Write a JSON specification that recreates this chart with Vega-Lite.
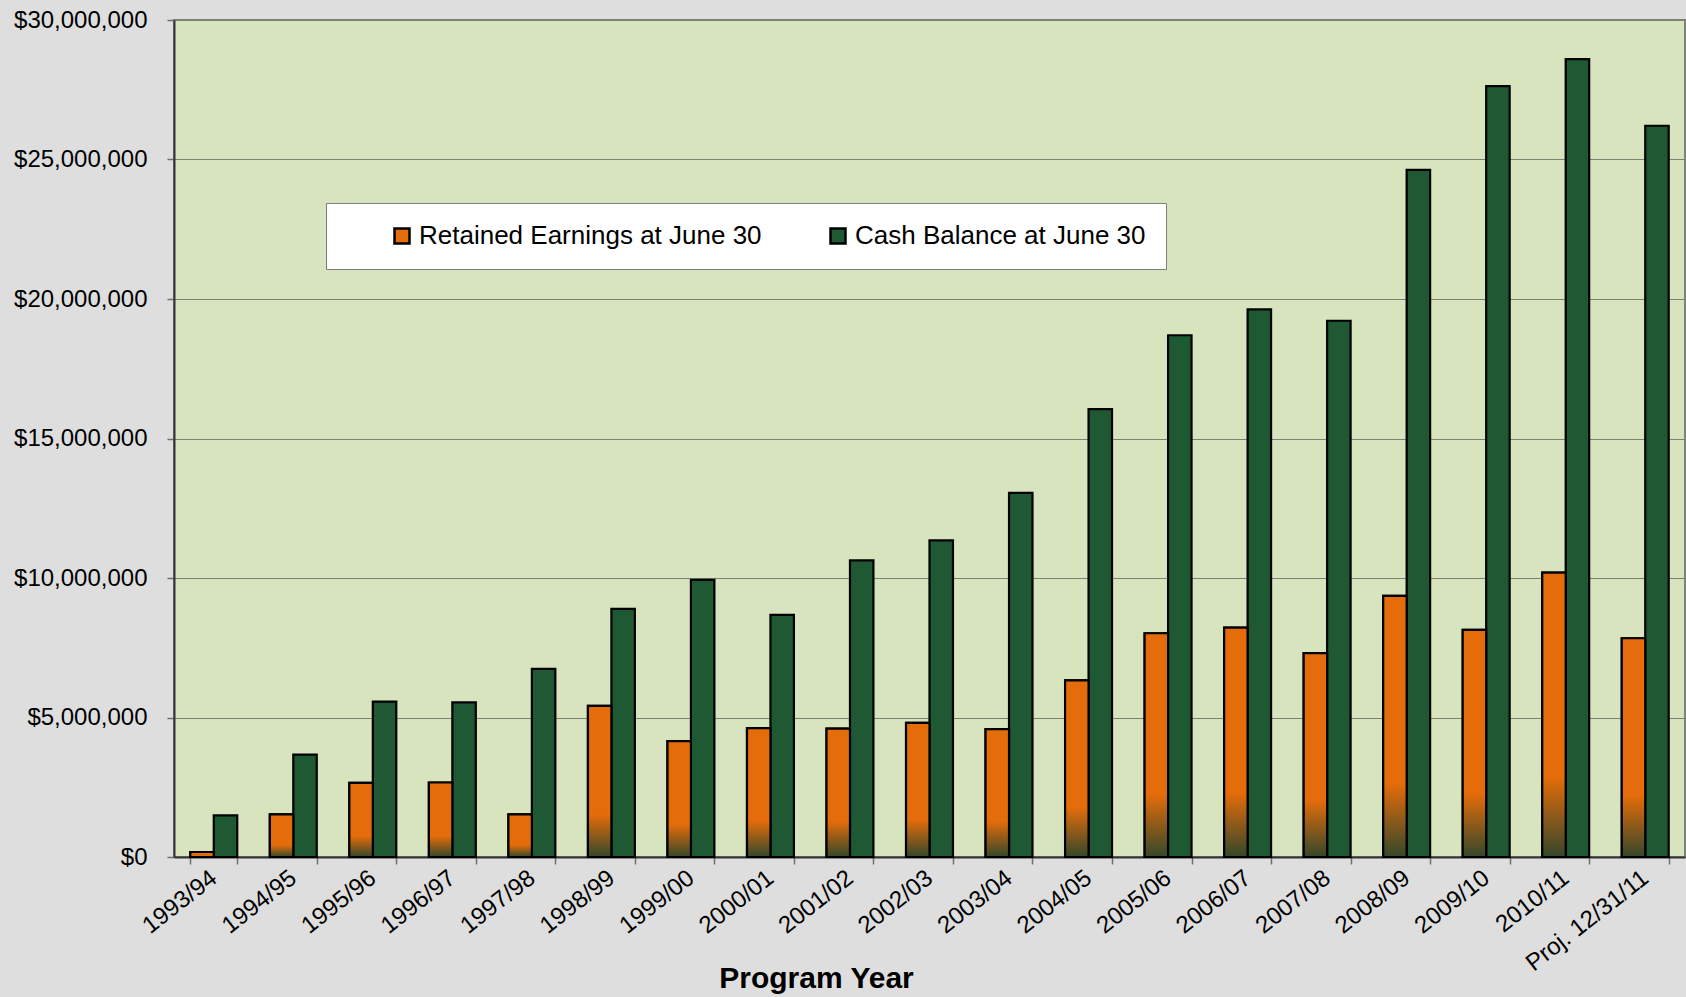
{
  "$schema": "https://vega.github.io/schema/vega-lite/v6.json",
  "width": 1511,
  "height": 837,
  "autosize": {"type": "none"},
  "padding": {"left": 174, "top": 20, "right": 1, "bottom": 140},
  "background": "#DEDEDE",
  "config": {
    "font": "Liberation Sans",
    "view": {"fill": "#D8E4BE", "stroke": "#808080", "strokeWidth": 2}
  },
  "data": {
    "values": [
      {"year": "1993/94", "series": "Retained Earnings at June 30", "value": 180000},
      {"year": "1994/95", "series": "Retained Earnings at June 30", "value": 1530000},
      {"year": "1995/96", "series": "Retained Earnings at June 30", "value": 2660000},
      {"year": "1996/97", "series": "Retained Earnings at June 30", "value": 2670000},
      {"year": "1997/98", "series": "Retained Earnings at June 30", "value": 1530000},
      {"year": "1998/99", "series": "Retained Earnings at June 30", "value": 5420000},
      {"year": "1999/00", "series": "Retained Earnings at June 30", "value": 4150000},
      {"year": "2000/01", "series": "Retained Earnings at June 30", "value": 4620000},
      {"year": "2001/02", "series": "Retained Earnings at June 30", "value": 4600000},
      {"year": "2002/03", "series": "Retained Earnings at June 30", "value": 4810000},
      {"year": "2003/04", "series": "Retained Earnings at June 30", "value": 4580000},
      {"year": "2004/05", "series": "Retained Earnings at June 30", "value": 6330000},
      {"year": "2005/06", "series": "Retained Earnings at June 30", "value": 8020000},
      {"year": "2006/07", "series": "Retained Earnings at June 30", "value": 8220000},
      {"year": "2007/08", "series": "Retained Earnings at June 30", "value": 7310000},
      {"year": "2008/09", "series": "Retained Earnings at June 30", "value": 9360000},
      {"year": "2009/10", "series": "Retained Earnings at June 30", "value": 8140000},
      {"year": "2010/11", "series": "Retained Earnings at June 30", "value": 10190000},
      {"year": "Proj. 12/31/11", "series": "Retained Earnings at June 30", "value": 7840000},
      {"year": "1993/94", "series": "Cash Balance at June 30", "value": 1490000},
      {"year": "1994/95", "series": "Cash Balance at June 30", "value": 3670000},
      {"year": "1995/96", "series": "Cash Balance at June 30", "value": 5570000},
      {"year": "1996/97", "series": "Cash Balance at June 30", "value": 5540000},
      {"year": "1997/98", "series": "Cash Balance at June 30", "value": 6740000},
      {"year": "1998/99", "series": "Cash Balance at June 30", "value": 8890000},
      {"year": "1999/00", "series": "Cash Balance at June 30", "value": 9930000},
      {"year": "2000/01", "series": "Cash Balance at June 30", "value": 8680000},
      {"year": "2001/02", "series": "Cash Balance at June 30", "value": 10630000},
      {"year": "2002/03", "series": "Cash Balance at June 30", "value": 11350000},
      {"year": "2003/04", "series": "Cash Balance at June 30", "value": 13050000},
      {"year": "2004/05", "series": "Cash Balance at June 30", "value": 16050000},
      {"year": "2005/06", "series": "Cash Balance at June 30", "value": 18700000},
      {"year": "2006/07", "series": "Cash Balance at June 30", "value": 19630000},
      {"year": "2007/08", "series": "Cash Balance at June 30", "value": 19220000},
      {"year": "2008/09", "series": "Cash Balance at June 30", "value": 24630000},
      {"year": "2009/10", "series": "Cash Balance at June 30", "value": 27630000},
      {"year": "2010/11", "series": "Cash Balance at June 30", "value": 28600000},
      {"year": "Proj. 12/31/11", "series": "Cash Balance at June 30", "value": 26210000}
    ]
  },
  "encoding": {
    "x": {
      "field": "year",
      "type": "nominal",
      "sort": null,
      "scale": {"paddingInner": 0.41, "paddingOuter": 0.205},
      "axis": {
        "title": "Program Year",
        "titleFontSize": 30,
        "titleFontWeight": "bold",
        "titleColor": "#000000",
        "titleX": 642,
        "titleY": 130,
        "titleAlign": "center",
        "titleBaseline": "alphabetic",
        "labelAngle": -38,
        "labelAlign": "right",
        "labelBaseline": "middle",
        "labelFontSize": 24,
        "labelColor": "#000000",
        "labelPadding": 11,
        "labelOverlap": false,
        "tickBand": "extent",
        "tickSize": 7,
        "tickColor": "#6f6f6f",
        "tickWidth": 1.5,
        "domainColor": "#333333",
        "domainWidth": 2
      }
    },
    "xOffset": {
      "field": "series",
      "type": "nominal",
      "scale": {"domain": ["Retained Earnings at June 30", "Cash Balance at June 30"]}
    },
    "y": {
      "field": "value",
      "type": "quantitative",
      "scale": {"domain": [0, 30000000], "nice": false, "zero": true},
      "axis": {
        "title": null,
        "values": [0, 5000000, 10000000, 15000000, 20000000, 25000000, 30000000],
        "format": "$,.0f",
        "labelFontSize": 24,
        "labelColor": "#000000",
        "labelPadding": 20,
        "tickSize": 7,
        "tickColor": "#6f6f6f",
        "tickWidth": 1.5,
        "domainColor": "#333333",
        "domainWidth": 2,
        "grid": true,
        "gridColor": "#7c8272",
        "gridWidth": 1.2
      }
    }
  },
  "layer": [
    {
      "mark": {"type": "bar", "stroke": "#000000", "strokeWidth": 2.2},
      "encoding": {
        "color": {
          "field": "series",
          "type": "nominal",
          "scale": {
            "domain": ["Retained Earnings at June 30", "Cash Balance at June 30"],
            "range": ["#E46C0A", "#1F5933"]
          },
          "legend": {
            "title": " ",
            "titleOrient": "left",
            "titlePadding": 43,
            "orient": "none",
            "direction": "horizontal",
            "legendX": 152,
            "legendY": 183,
            "padding": 20,
            "fillColor": "#FFFFFF",
            "strokeColor": "#7f7f7f",
            "symbolType": "square",
            "symbolSize": 225,
            "symbolStrokeColor": "#000000",
            "symbolStrokeWidth": 2.5,
            "symbolOpacity": 1,
            "labelFontSize": 26,
            "labelColor": "#000000",
            "labelOffset": 4,
            "labelLimit": 500,
            "columnPadding": 63
          }
        }
      }
    },
    {
      "transform": [{"filter": "datum.series === 'Retained Earnings at June 30'"}],
      "mark": {
        "type": "bar",
        "stroke": "#000000",
        "strokeWidth": 2.2,
        "color": {
          "gradient": "linear",
          "x1": 0, "y1": 0, "x2": 0, "y2": 1,
          "stops": [
            {"offset": 0, "color": "#E46C0A"},
            {"offset": 0.72, "color": "#E46C0A"},
            {"offset": 1, "color": "#34472A"}
          ]
        }
      },
      "encoding": {}
    }
  ]
}
